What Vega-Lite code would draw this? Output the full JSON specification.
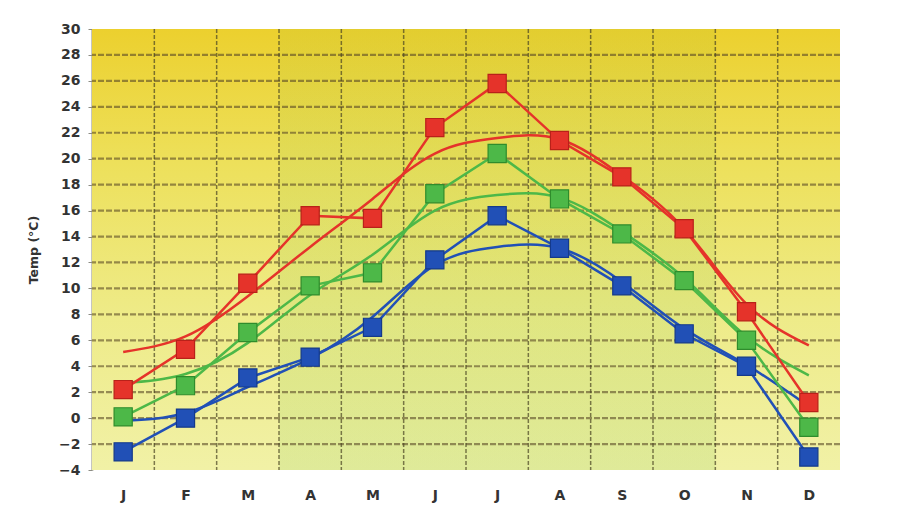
{
  "$schema": "https://vega.github.io/schema/vega-lite/v6.json",
  "width": 748,
  "height": 441,
  "autosize": {"type": "none"},
  "padding": {"left": 92, "top": 29, "right": 63, "bottom": 39},
  "background": "white",
  "config": {
    "view": {"stroke": null},
    "font": "DejaVu Sans",
    "axisX": {
      "values": [1, 2, 3, 4, 5, 6, 7, 8, 9, 10, 11, 12],
      "labelExpr": "['J','F','M','A','M','J','J','A','S','O','N','D'][datum.value - 1]",
      "domain": false,
      "ticks": false,
      "grid": false,
      "labelAngle": 0,
      "labelFont": "DejaVu Sans",
      "labelFontWeight": "bold",
      "labelFontSize": 14,
      "labelColor": "#333333",
      "labelPadding": 18
    },
    "axisY": {
      "values": [-4, -2, 0, 2, 4, 6, 8, 10, 12, 14, 16, 18, 20, 22, 24, 26, 28, 30],
      "domain": true,
      "domainColor": "#8c8c84",
      "domainWidth": 2,
      "ticks": true,
      "tickSize": 4,
      "tickColor": "#8c8c84",
      "grid": false,
      "labelFont": "DejaVu Sans",
      "labelFontWeight": "bold",
      "labelFontSize": 14,
      "labelColor": "#333333",
      "labelPadding": 8,
      "titleFont": "DejaVu Sans",
      "titleFontSize": 12.5,
      "titleFontWeight": "bold",
      "titleColor": "#333333",
      "titlePadding": 18
    }
  },
  "datasets": {
    "panel": [{"x1": 0.5, "x2": 12.5, "y1": -4, "y2": 30}],
    "summer": [{"x1": 3.5, "x2": 10.5, "y1": -4, "y2": 30}],
    "monthEdges": [
      {"edge": 1.5}, {"edge": 2.5}, {"edge": 3.5}, {"edge": 4.5}, {"edge": 5.5}, {"edge": 6.5},
      {"edge": 7.5}, {"edge": 8.5}, {"edge": 9.5}, {"edge": 10.5}, {"edge": 11.5}
    ],
    "levels": [
      {"level": -2}, {"level": 0}, {"level": 2}, {"level": 4}, {"level": 6}, {"level": 8},
      {"level": 10}, {"level": 12}, {"level": 14}, {"level": 16}, {"level": 18}, {"level": 20},
      {"level": 22}, {"level": 24}, {"level": 26}, {"level": 28}
    ],
    "temps": [
      {"m": 1, "s": "Max", "t": 2.2, "f": 5.1},
      {"m": 2, "s": "Max", "t": 5.3, "f": 6.3},
      {"m": 3, "s": "Max", "t": 10.4, "f": 9.4},
      {"m": 4, "s": "Max", "t": 15.6, "f": 13.2},
      {"m": 5, "s": "Max", "t": 15.4, "f": 16.9},
      {"m": 6, "s": "Max", "t": 22.4, "f": 20.4},
      {"m": 7, "s": "Max", "t": 25.8, "f": 21.6},
      {"m": 8, "s": "Max", "t": 21.4, "f": 21.5},
      {"m": 9, "s": "Max", "t": 18.6, "f": 18.7},
      {"m": 10, "s": "Max", "t": 14.6, "f": 14.6},
      {"m": 11, "s": "Max", "t": 8.2, "f": 8.8},
      {"m": 12, "s": "Max", "t": 1.2, "f": 5.6},
      {"m": 1, "s": "Mean", "t": 0.1, "f": 2.7},
      {"m": 2, "s": "Mean", "t": 2.5, "f": 3.4},
      {"m": 3, "s": "Mean", "t": 6.6, "f": 5.8},
      {"m": 4, "s": "Mean", "t": 10.2, "f": 9.5},
      {"m": 5, "s": "Mean", "t": 11.2, "f": 12.6},
      {"m": 6, "s": "Mean", "t": 17.3, "f": 16.0},
      {"m": 7, "s": "Mean", "t": 20.4, "f": 17.2},
      {"m": 8, "s": "Mean", "t": 16.9, "f": 17.0},
      {"m": 9, "s": "Mean", "t": 14.2, "f": 14.4},
      {"m": 10, "s": "Mean", "t": 10.6, "f": 10.8},
      {"m": 11, "s": "Mean", "t": 6.0, "f": 6.3},
      {"m": 12, "s": "Mean", "t": -0.7, "f": 3.3},
      {"m": 1, "s": "Min", "t": -2.6, "f": -0.2},
      {"m": 2, "s": "Min", "t": 0.0, "f": 0.4},
      {"m": 3, "s": "Min", "t": 3.1, "f": 2.4},
      {"m": 4, "s": "Min", "t": 4.7, "f": 4.6},
      {"m": 5, "s": "Min", "t": 7.0, "f": 7.8},
      {"m": 6, "s": "Min", "t": 12.2, "f": 11.8},
      {"m": 7, "s": "Min", "t": 15.6, "f": 13.2},
      {"m": 8, "s": "Min", "t": 13.1, "f": 13.1},
      {"m": 9, "s": "Min", "t": 10.2, "f": 10.5},
      {"m": 10, "s": "Min", "t": 6.5, "f": 6.9},
      {"m": 11, "s": "Min", "t": 4.0, "f": 4.1},
      {"m": 12, "s": "Min", "t": -3.0, "f": 0.9}
    ]
  },
  "layer": [
    {
      "data": {"name": "panel"},
      "mark": {
        "type": "rect",
        "color": {
          "gradient": "linear", "x1": 0, "y1": 0, "x2": 0, "y2": 1,
          "stops": [
            {"offset": 0, "color": "#ecd02e"},
            {"offset": 0.3, "color": "#ede05a"},
            {"offset": 0.65, "color": "#eeeb88"},
            {"offset": 1, "color": "#f1f1a6"}
          ]
        }
      },
      "encoding": {
        "x": {"field": "x1", "type": "quantitative", "scale": {"domain": [0.5, 12.5], "nice": false, "zero": false}, "title": null},
        "x2": {"field": "x2"},
        "y": {"field": "y1", "type": "quantitative", "scale": {"domain": [-4, 30], "nice": false, "zero": false}, "title": "Temp (°C)"},
        "y2": {"field": "y2"}
      }
    },
    {
      "data": {"name": "summer"},
      "mark": {
        "type": "rect",
        "color": {
          "gradient": "linear", "x1": 0, "y1": 0, "x2": 0, "y2": 1,
          "stops": [
            {"offset": 0, "color": "rgba(110,170,60,0.07)"},
            {"offset": 0.5, "color": "rgba(120,190,70,0.11)"},
            {"offset": 1, "color": "rgba(120,195,80,0.15)"}
          ]
        }
      },
      "encoding": {
        "x": {"field": "x1", "type": "quantitative", "title": null},
        "x2": {"field": "x2"},
        "y": {"field": "y1", "type": "quantitative", "title": "Temp (°C)"},
        "y2": {"field": "y2"}
      }
    },
    {
      "data": {"name": "levels"},
      "mark": {"type": "rule", "color": "#5a4a26", "strokeWidth": 2.2, "strokeDash": [6, 2], "opacity": 0.6},
      "encoding": {
        "y": {"field": "level", "type": "quantitative", "title": "Temp (°C)"}
      }
    },
    {
      "data": {"name": "monthEdges"},
      "mark": {"type": "rule", "color": "#4a4424", "strokeWidth": 1.5, "strokeDash": [4, 2], "opacity": 0.7},
      "encoding": {
        "x": {"field": "edge", "type": "quantitative", "title": null}
      }
    },
    {
      "data": {"name": "temps"},
      "mark": {"type": "line", "interpolate": "natural", "strokeWidth": 2.5},
      "encoding": {
        "x": {"field": "m", "type": "quantitative", "title": null},
        "y": {"field": "f", "type": "quantitative", "title": "Temp (°C)"},
        "color": {
          "field": "s", "type": "nominal", "legend": null,
          "scale": {"domain": ["Max", "Mean", "Min"], "range": ["#e5332a", "#4db848", "#2150b6"]}
        },
        "detail": {"field": "s"}
      }
    },
    {
      "data": {"name": "temps"},
      "mark": {"type": "line", "strokeWidth": 2.5},
      "encoding": {
        "x": {"field": "m", "type": "quantitative", "title": null},
        "y": {"field": "t", "type": "quantitative", "title": "Temp (°C)"},
        "color": {"field": "s", "type": "nominal", "legend": null},
        "detail": {"field": "s"}
      }
    },
    {
      "data": {"name": "temps"},
      "mark": {"type": "point", "shape": "square", "filled": true, "size": 330, "opacity": 1, "strokeWidth": 1.2},
      "encoding": {
        "x": {"field": "m", "type": "quantitative", "title": null},
        "y": {"field": "t", "type": "quantitative", "title": "Temp (°C)"},
        "fill": {"field": "s", "type": "nominal", "legend": null, "scale": {"domain": ["Max", "Mean", "Min"], "range": ["#e5332a", "#4db848", "#2150b6"]}},
        "stroke": {"field": "s", "type": "nominal", "legend": null, "scale": {"domain": ["Max", "Mean", "Min"], "range": ["#b92119", "#2f8c2c", "#153a8a"]}}
      }
    }
  ]
}
